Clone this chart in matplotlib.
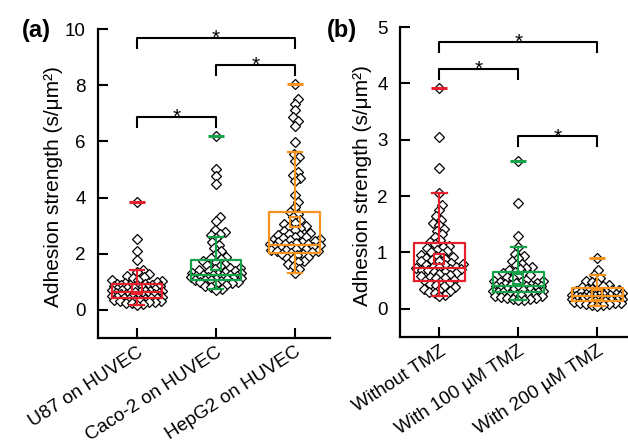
import numpy as np
import matplotlib
matplotlib.use("Agg")
import matplotlib.pyplot as plt

plt.rcParams['font.family'] = ['Liberation Sans', 'DejaVu Sans']

# ---------------- data ----------------
cats_a = ["U87 on HUVEC", "Caco-2 on HUVEC", "HepG2 on HUVEC"]
cats_b = ["Without TMZ", "With 100 \u00b5M TMZ", "With 200 \u00b5M TMZ"]

u87 = [3.85, 2.52, 2.1, 1.78, 1.42, 1.35, 1.28, 1.22, 1.18, 1.12, 1.08, 1.05, 1.02, 0.98,
       0.96, 0.94, 0.92, 0.9, 0.9, 0.88, 0.87, 0.85, 0.84, 0.82, 0.8, 0.78, 0.77, 0.75,
       0.74, 0.72, 0.7, 0.69, 0.68, 0.66, 0.65, 0.64, 0.62, 0.61, 0.6, 0.58, 0.57, 0.55,
       0.54, 0.52, 0.5, 0.49, 0.48, 0.46, 0.45, 0.44, 0.42, 0.41, 0.4, 0.38, 0.37, 0.35,
       0.34, 0.32, 0.3, 0.28, 0.27, 0.25, 0.23, 0.2, 0.17]
caco2 = [6.2, 5.0, 4.75, 4.48, 3.32, 3.18, 2.85, 2.78, 2.72, 2.65, 2.55, 2.4, 2.3, 2.2,
         2.1, 2.0, 1.9, 1.85, 1.8, 1.75, 1.7, 1.65, 1.6, 1.55, 1.5, 1.48, 1.45, 1.42, 1.4,
         1.38, 1.35, 1.33, 1.3, 1.28, 1.26, 1.25, 1.24, 1.22, 1.2, 1.2, 1.18, 1.17, 1.15,
         1.14, 1.12, 1.1, 1.1, 1.08, 1.06, 1.05, 1.03, 1.0, 0.98, 0.95, 0.92, 0.9, 0.85,
         0.8, 0.75, 0.7]
hepg2 = [8.05, 7.5, 7.32, 7.1, 6.85, 6.73, 6.55, 5.99, 5.55, 5.45, 5.3, 4.9, 4.8, 4.7,
         4.6, 4.1, 3.85, 3.67, 3.5, 3.4, 3.3, 3.2, 3.1, 3.05, 3.0, 2.95, 2.9, 2.85, 2.8,
         2.75, 2.7, 2.68, 2.65, 2.6, 2.58, 2.55, 2.52, 2.5, 2.48, 2.45, 2.42, 2.4, 2.38,
         2.36, 2.35, 2.33, 2.3, 2.28, 2.26, 2.25, 2.22, 2.2, 2.18, 2.16, 2.15, 2.12, 2.1,
         2.08, 2.05, 2.02, 2.0, 1.98, 1.95, 1.9, 1.85, 1.8, 1.75, 1.7, 1.62, 1.55, 1.45, 1.3]

no_tmz = [3.92, 3.05, 2.5, 2.05, 1.85, 1.75, 1.65, 1.58, 1.52, 1.48, 1.42, 1.38, 1.32,
          1.28, 1.22, 1.18, 1.15, 1.12, 1.1, 1.08, 1.05, 1.02, 1.0, 0.98, 0.96, 0.94, 0.92,
          0.9, 0.88, 0.86, 0.85, 0.84, 0.82, 0.8, 0.78, 0.77, 0.76, 0.75, 0.74, 0.72, 0.71,
          0.7, 0.69, 0.68, 0.66, 0.65, 0.64, 0.62, 0.6, 0.58, 0.57, 0.55, 0.54, 0.52, 0.5,
          0.48, 0.46, 0.44, 0.42, 0.4, 0.38, 0.36, 0.34, 0.32, 0.3, 0.28, 0.25, 0.22]
tmz100 = [2.62, 1.88, 1.3, 1.1, 0.98, 0.93, 0.9, 0.85, 0.8, 0.78, 0.75, 0.72, 0.7, 0.68,
          0.66, 0.64, 0.62, 0.6, 0.58, 0.56, 0.54, 0.52, 0.5, 0.5, 0.48, 0.47, 0.46, 0.45,
          0.44, 0.43, 0.42, 0.41, 0.4, 0.4, 0.39, 0.38, 0.37, 0.36, 0.35, 0.34, 0.33, 0.32,
          0.31, 0.3, 0.3, 0.29, 0.28, 0.27, 0.26, 0.25, 0.24, 0.23, 0.22, 0.21, 0.2, 0.19,
          0.18, 0.17, 0.16, 0.15]
tmz200 = [0.9, 0.68, 0.6, 0.55, 0.5, 0.47, 0.45, 0.42, 0.4, 0.38, 0.36, 0.35, 0.34, 0.33,
          0.32, 0.31, 0.3, 0.3, 0.29, 0.28, 0.27, 0.26, 0.26, 0.25, 0.25, 0.24, 0.24, 0.23,
          0.23, 0.22, 0.22, 0.21, 0.21, 0.2, 0.2, 0.19, 0.19, 0.18, 0.18, 0.17, 0.17, 0.16,
          0.16, 0.15, 0.15, 0.14, 0.14, 0.13, 0.12, 0.12, 0.11, 0.1, 0.1, 0.09, 0.08, 0.07,
          0.06, 0.05]

# box statistics: q1, median, q3, whisker low, whisker high, mean
q1_a = [0.42, 1.07, 2.03]
med_a = [0.62, 1.25, 2.32]
q3_a = [0.94, 1.77, 3.5]
wlo_a = [0.18, 0.75, 1.3]
whi_a = [1.42, 2.58, 5.62]
mean_a = [0.74, 1.6, 3.12]

q1_b = [0.5, 0.3, 0.14]
med_b = [0.72, 0.4, 0.22]
q3_b = [1.16, 0.66, 0.37]
wlo_b = [0.22, 0.15, 0.05]
whi_b = [2.05, 1.1, 0.6]
mean_b = [0.88, 0.53, 0.25]

colors = ["#e3202b", "#17a24a", "#f6921e"]

# significance brackets: (left, right, height)
sig_a = [(0, 1, 6.87), (1, 2, 8.72), (0, 2, 9.68)]
sig_b = [(0, 2, 4.73), (0, 1, 4.25), (1, 2, 3.06)]


def swarm_offsets(ax, vals, d=6.0, maxhalf=25.0):
    p0 = ax.transData.transform([[0, 0]])[0]
    p1 = ax.transData.transform([[1, 1]])[0]
    sx, sy = p1 - p0
    vals = np.asarray(vals, float)
    ypx = vals * sy
    order = np.argsort(vals)
    placed_x, placed_y = [], []
    xs = np.zeros(len(vals))
    for i in order:
        y = ypx[i]
        px = np.array(placed_x)
        py = np.array(placed_y)
        if len(px):
            near = np.abs(py - y) < d
            nx, ny = px[near], py[near]
        else:
            nx, ny = np.array([]), np.array([])
        cands = [0.0]
        for a, b in zip(nx, ny):
            dx = np.sqrt(max(d * d - (b - y) ** 2, 0))
            cands += [a + dx, a - dx]
        cands = sorted(cands, key=abs)
        chosen = None
        for c in cands:
            if abs(c) > maxhalf:
                continue
            if len(nx) == 0 or np.all(np.hypot(nx - c, ny - y) >= d - 1e-6):
                chosen = c
                break
        if chosen is None:
            grid = np.linspace(-maxhalf, maxhalf, 41)
            best = max(grid, key=lambda g: np.min(np.hypot(nx - g, ny - y)))
            chosen = best
        xs[i] = chosen / sx
        placed_x.append(chosen)
        placed_y.append(y)
    return xs, sy


def panel(ax, groups, q1, med, q3, wlo, whi, mean, sigs, ylim, yticks, cats):
    ax.set_xlim(-0.5, 2.45)
    ax.set_ylim(*ylim)
    sy = 1.0
    for i, vals in enumerate(groups):
        off, sy = swarm_offsets(ax, vals)
        ax.plot(i + off, vals, linestyle='none', marker='D', ms=5, mfc='white',
                mec='black', mew=0.9, zorder=2)
    for i in range(3):
        c = colors[i]
        st = dict(q1=q1[i], med=med[i], q3=q3[i], whislo=wlo[i], whishi=whi[i],
                  mean=mean[i], fliers=[])
        ax.bxp([st], positions=[i], widths=0.64, capwidths=0.18, showmeans=True,
               showfliers=False, manage_ticks=False,
               boxprops=dict(color=c, lw=1.6), medianprops=dict(color=c, lw=1.6),
               whiskerprops=dict(color=c, lw=1.6), capprops=dict(color=c, lw=1.6),
               meanprops=dict(marker='s', mfc='none', mec=c, mew=1.5, ms=7),
               zorder=3)
        ax.plot(i, max(groups[i]), marker='_', ms=11, mew=2.2, color=c, zorder=4)
    leg = 10.0 / sy
    for (l, r, h) in sigs:
        ax.plot([l, l, r, r], [h - leg, h, h, h - leg], color='black', lw=1.5,
                clip_on=False, zorder=5)
        ax.text((l + r) / 2, h - 6.0 / sy, '*', ha='center', va='baseline', fontsize=15)
    ax.set_yticks(yticks)
    ax.set_xticks(range(3))
    ax.set_xticklabels(cats, rotation=33, ha='right', rotation_mode='anchor', fontsize=13.6)
    ax.tick_params(axis='y', labelsize=13.5, direction='in', length=7, width=1.5, pad=9)
    ax.tick_params(axis='x', direction='in', length=7, width=1.5, pad=4)
    for s in ['top', 'right']:
        ax.spines[s].set_visible(False)
    for s in ['left', 'bottom']:
        ax.spines[s].set_linewidth(1.6)
    ax.set_ylabel("Adhesion strength (s/\u03bcm\u00b2)", fontsize=15)


fig = plt.figure(figsize=(6.28, 4.41), dpi=100)
W, H = 628, 441
ax1 = fig.add_axes([98 / W, (H - 338) / H, 232 / W, 309 / H])
ax2 = fig.add_axes([400 / W, (H - 337) / H, 233 / W, 310 / H])

panel(ax1, [u87, caco2, hepg2], q1_a, med_a, q3_a, wlo_a, whi_a, mean_a, sig_a,
      (-1, 10), [0, 2, 4, 6, 8, 10], cats_a)
panel(ax2, [no_tmz, tmz100, tmz200], q1_b, med_b, q3_b, wlo_b, whi_b, mean_b, sig_b,
      (-0.5, 5), [0, 1, 2, 3, 4, 5], cats_b)

ax1.yaxis.set_label_coords(-0.15, 0.49)
ax2.yaxis.set_label_coords(-0.12, 0.49)

fig.text(22 / W, 1 - 30 / H, "(a)", fontsize=17, fontweight='bold', va='center', ha='left')
fig.text(327 / W, 1 - 30 / H, "(b)", fontsize=17, fontweight='bold', va='center', ha='left')

fig.savefig("out.png", dpi=100)
